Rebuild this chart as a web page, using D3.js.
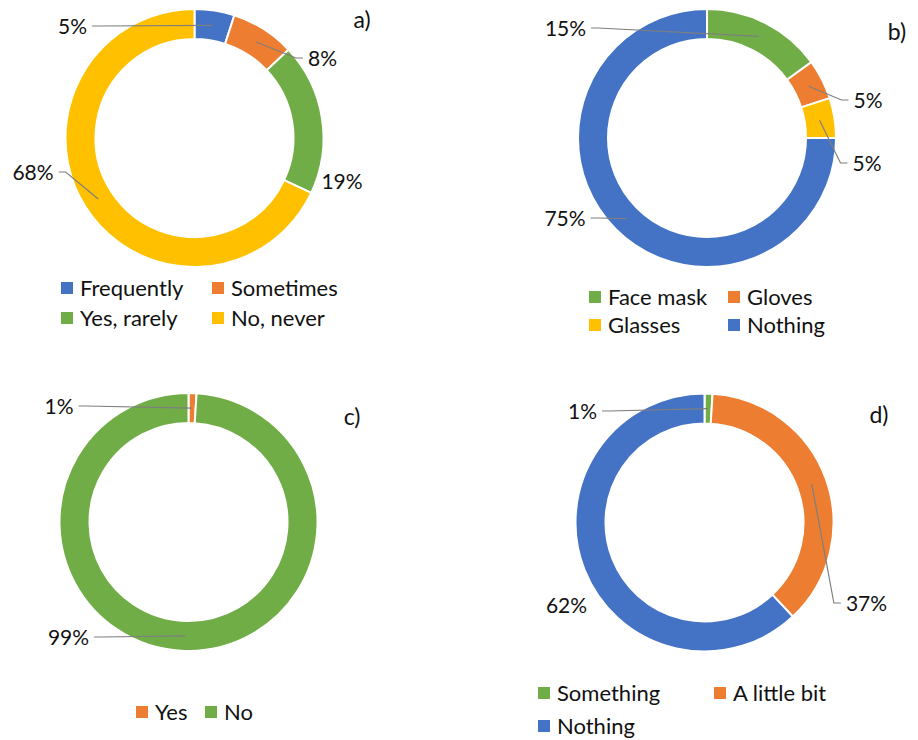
<!DOCTYPE html>
<html>
<head>
<meta charset="utf-8">
<script src="https://cdn.jsdelivr.net/npm/d3@7"></script>
<style>
  html, body { margin: 0; padding: 0; background: #fff; }
  svg text { font-family: Lato, "Noto Sans", sans-serif; fill: #111; }
</style>
</head>
<body>
<svg id="chart" width="918" height="740"></svg>
<script>
// ---------------- data ----------------
const catsA = ["Frequently", "Sometimes", "Yes, rarely", "No, never"];
const valsA = [5, 8, 19, 68];
const colsA = ["#4472C4", "#ED7D31", "#70AD47", "#FFC000"];

const catsB = ["Face mask", "Gloves", "Glasses", "Nothing"];
const valsB = [15, 5, 5, 75];
const colsB = ["#70AD47", "#ED7D31", "#FFC000", "#4472C4"];

const catsC = ["Yes", "No"];
const valsC = [1, 99];
const colsC = ["#ED7D31", "#70AD47"];

const catsD = ["Something", "A little bit", "Nothing"];
const valsD = [1, 37, 62];
const colsD = ["#70AD47", "#ED7D31", "#4472C4"];

const panelTitles = ["a)", "b)", "c)", "d)"];

// ---------------- layout (positions only) ----------------
const panels = [
  { cats: catsA, vals: valsA, cols: colsA, title: panelTitles[0],
    cx: 194.5, cy: 138, titlePos: [362, 20],
    labels: [[72.5, 26, true], [322.5, 58, true], [342, 181, false], [33, 172, true]],
    legend: [[61, 288], [212, 288], [61, 318], [212, 318]] },
  { cats: catsB, vals: valsB, cols: colsB, title: panelTitles[1],
    cx: 707, cy: 138, titlePos: [897, 32],
    labels: [[565.5, 28, true], [868, 100, true], [867, 163, true], [565, 218, true]],
    legend: [[589, 297], [728, 297], [589, 325], [728, 325]] },
  { cats: catsC, vals: valsC, cols: colsC, title: panelTitles[2],
    cx: 188.5, cy: 522, titlePos: [352, 417],
    labels: [[59, 406, true], [68.5, 637, true]],
    legend: [[136, 712], [205, 712]] },
  { cats: catsD, vals: valsD, cols: colsD, title: panelTitles[3],
    cx: 704.5, cy: 522.5, titlePos: [879, 415],
    labels: [[582.5, 411, true], [866.5, 603, true], [566.5, 605, false]],
    legend: [[538, 693], [714, 693], [538, 726]] }
];

const rOuter = 129, rInner = 99;
const svg = d3.select("#chart");
const pie = d3.pie().sort(null).value(d => d);
const arc = d3.arc().innerRadius(rInner).outerRadius(rOuter);
const midArc = d3.arc().innerRadius((rInner + rOuter) / 2).outerRadius((rInner + rOuter) / 2);

panels.forEach(p => {
  const g = svg.append("g");
  const arcs = pie(p.vals);
  const ring = g.append("g").attr("transform", `translate(${p.cx},${p.cy})`);
  ring.selectAll("path").data(arcs).join("path")
    .attr("d", arc)
    .attr("fill", (d, i) => p.cols[i])
    .attr("stroke", "#fff")
    .attr("stroke-width", 2);

  // labels + leader lines
  arcs.forEach((a, i) => {
    const lab = p.labels[i];
    const t = g.append("text")
      .attr("x", lab[0]).attr("y", lab[1])
      .attr("text-anchor", "middle")
      .attr("dy", "0.36em")
      .attr("font-size", 21)
      .text(p.vals[i] + "%");
    if (lab[2]) {
      const w = t.node().getComputedTextLength();
      const c = midArc.centroid(a);
      const ex = p.cx + c[0], ey = p.cy + c[1];
      const left = ex < lab[0];
      const sx = left ? lab[0] - w / 2 - 5 : lab[0] + w / 2 + 5;
      const kx = left ? sx - 7 : sx + 7;
      const line = d3.line();
      g.insert("path", "text")
        .attr("d", line([[sx, lab[1]], [kx, lab[1]], [ex, ey]]))
        .attr("fill", "none")
        .attr("stroke", "#7f7f7f")
        .attr("stroke-width", 1.2);
    }
  });

  // title
  g.append("text")
    .attr("x", p.titlePos[0]).attr("y", p.titlePos[1])
    .attr("text-anchor", "middle").attr("dy", "0.36em")
    .attr("font-size", 23)
    .text(p.title);

  // legend
  p.cats.forEach((c, i) => {
    const [lx, ly] = p.legend[i];
    g.append("rect").attr("x", lx).attr("y", ly - 6).attr("width", 12).attr("height", 12)
      .attr("fill", p.cols[i]);
    g.append("text").attr("x", lx + 19).attr("y", ly).attr("dy", "0.36em")
      .attr("font-size", 22).text(c);
  });
});
</script>
</body>
</html>
